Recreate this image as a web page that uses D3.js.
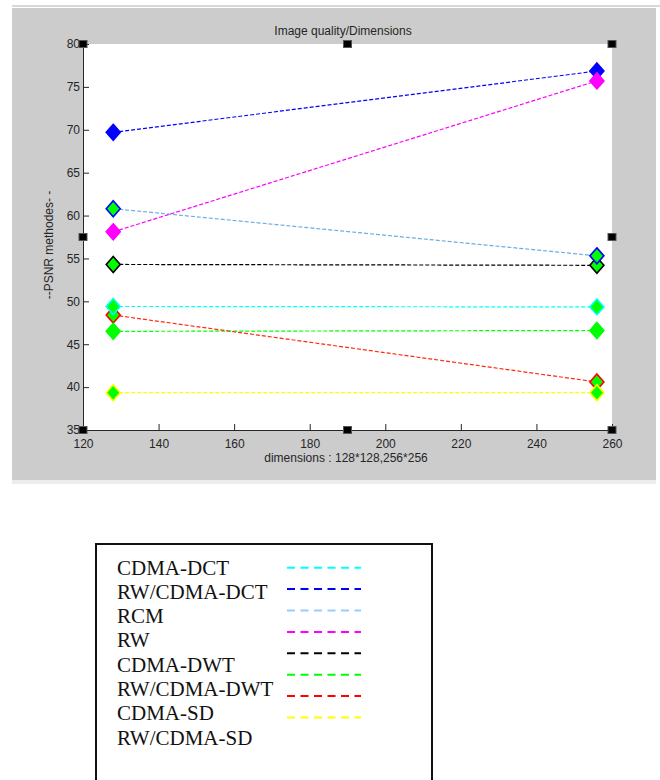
<!DOCTYPE html>
<html>
<head>
<meta charset="utf-8">
<script src="https://cdn.jsdelivr.net/npm/d3@7/dist/d3.min.js"></script>
<style>
  body { margin: 0; background: #fff; }
  svg { display: block; }
</style>
</head>
<body>
<svg id="chart" width="660" height="780"></svg>
<script>
// data
const dims = [128, 256];
const seriesNames = ["CDMA-DCT", "RW/CDMA-DCT", "RCM", "RW", "CDMA-DWT", "RW/CDMA-DWT", "CDMA-SD", "RW/CDMA-SD"];
const cdmaDct = [49.4, 49.35];
const rwCdmaDct = [69.7, 76.85];
const rcm = [60.8, 55.3];
const rw = [58.1, 75.7];
const cdmaDwt = [54.3, 54.2];
const rwCdmaDwt = [46.5, 46.6];
const cdmaSd = [48.4, 40.6];
const rwCdmaSd = [39.35, 39.35];
const lineColors = ["#00ffff", "#0000ff", "#6aaee0", "#ff00ff", "#000000", "#00ff00", "#ff2a10", "#ffff00"];
const edgeColors = ["#00ffff", "#0000ff", "#0000ff", "#ff00ff", "#000000", "#00ff00", "#ff0000", "#ffff00"];
const faceColors = ["#00ff00", "#0000ff", "#00ff00", "#ff00ff", "#00ff00", "#00ff00", "#00ff00", "#00ff00"];
const legendSwatchColors = ["#00ffff", "#0000ff", "#99ccff", "#ff00ff", "#000000", "#00ff00", "#ff0000", "#ffff00"];
const xTicks = [120, 140, 160, 180, 200, 220, 240, 260];
const yTicks = [35, 40, 45, 50, 55, 60, 65, 70, 75, 80];
// which markers end up on top in the original
const markerOrder = [1, 3, 4, 2, 6, 0, 7, 5];

const allValues = [cdmaDct, rwCdmaDct, rcm, rw, cdmaDwt, rwCdmaDwt, cdmaSd, rwCdmaSd];
const series = seriesNames.map((name, i) => ({
    name: name,
    values: allValues[i].map((v, j) => ({ x: dims[j], y: v })),
    line: lineColors[i], edge: edgeColors[i], face: faceColors[i]
}));

const svg = d3.select("#chart");
const plot = { left: 83, top: 44, right: 612, bottom: 430 };
const sans = "'Liberation Sans', Arial, sans-serif";
const ink = "#262626";

// figure background (matlab grey)
svg.append("line").attr("x1", 12).attr("x2", 660).attr("y1", 6).attr("y2", 6)
   .attr("stroke", "#d8d8d8").attr("stroke-width", 2);
svg.append("rect").attr("x", 12).attr("y", 8).attr("width", 644).attr("height", 472)
   .attr("fill", "#cccccc");
svg.append("rect").attr("x", 12).attr("y", 480).attr("width", 644).attr("height", 4)
   .attr("fill", "#ececec");
svg.append("rect").attr("x", plot.left).attr("y", plot.top)
   .attr("width", plot.right - plot.left).attr("height", plot.bottom - plot.top)
   .attr("fill", "#fff");

const x = d3.scaleLinear().domain([120, 260]).range([plot.left, plot.right]);
const y = d3.scaleLinear().domain([35, 80]).range([plot.bottom, plot.top]);

// axes, ticks pointing inward
const xAxis = svg.append("g").attr("transform", `translate(0,${plot.bottom})`)
    .call(d3.axisBottom(x).tickValues(xTicks).tickSizeInner(-6).tickSizeOuter(0).tickPadding(9));
const yAxis = svg.append("g").attr("transform", `translate(${plot.left},0)`)
    .call(d3.axisLeft(y).tickValues(yTicks).tickSizeInner(-6).tickSizeOuter(0).tickPadding(3));
[xAxis, yAxis].forEach(a => {
    a.select(".domain").attr("stroke", ink);
    a.selectAll(".tick line").attr("stroke", ink);
    a.selectAll("text").attr("fill", ink).style("font-family", sans).style("font-size", "12px");
});

// series lines
const lineGen = d3.line().x(d => x(d.x)).y(d => y(d.y));
svg.append("g").selectAll("path")
   .data(series).enter()
   .append("path")
   .attr("d", d => lineGen(d.values))
   .attr("fill", "none")
   .attr("stroke", d => d.line)
   .attr("stroke-width", 1.2)
   .attr("stroke-dasharray", "4,2");

// diamond markers
const diamond = (cx, cy) => `M${cx},${cy - 8}L${cx + 7},${cy}L${cx},${cy + 8}L${cx - 7},${cy}Z`;
const markers = svg.append("g");
markerOrder.forEach(k => {
    const s = series[k];
    markers.selectAll(null)
       .data(s.values).enter()
       .append("path")
       .attr("d", d => diamond(x(d.x), y(d.y)))
       .attr("fill", s.face)
       .attr("stroke", s.edge)
       .attr("stroke-width", 1.6);
});

// selection handles of the axes
const handlesX = [plot.left, (plot.left + plot.right) / 2, plot.right];
const handlesY = [plot.top, (plot.top + plot.bottom) / 2, plot.bottom];
handlesX.forEach((hx, i) => handlesY.forEach((hy, j) => {
    if (i === 1 && j === 1) return;
    svg.append("rect").attr("x", hx - 4).attr("y", hy - 3.5).attr("width", 8).attr("height", 7)
       .attr("fill", "#000").attr("stroke", "#555").attr("stroke-width", 1);
}));

// titles
svg.append("text").attr("x", 343).attr("y", 35).attr("text-anchor", "middle")
   .style("font-family", sans).style("font-size", "12px").attr("fill", ink)
   .text("Image quality/Dimensions");
svg.append("text").attr("x", 346).attr("y", 462).attr("text-anchor", "middle")
   .style("font-family", sans).style("font-size", "12px").attr("fill", ink)
   .text("dimensions : 128*128,256*256");
svg.append("text").attr("transform", "translate(53,245) rotate(-90)").attr("text-anchor", "middle")
   .style("font-family", sans).style("font-size", "12px").attr("fill", ink)
   .text("--PSNR  methodes- -");

// legend box (separate pasted panel)
const legend = svg.append("g");
legend.append("rect").attr("x", 96).attr("y", 544).attr("width", 336).attr("height", 250)
   .attr("fill", "#fff").attr("stroke", "#111").attr("stroke-width", 2);
legend.selectAll("text")
   .data(seriesNames).enter()
   .append("text")
   .attr("x", 117)
   .attr("y", (d, i) => 574.5 + i * 24.3)
   .style("font-family", "'Liberation Serif', 'Times New Roman', serif")
   .style("font-size", "21px")
   .attr("fill", "#111")
   .text(d => d);
legend.selectAll("line")
   .data(legendSwatchColors).enter()
   .append("line")
   .attr("x1", 287).attr("x2", 361)
   .attr("y1", (d, i) => 567.7 + i * 21.4)
   .attr("y2", (d, i) => 567.7 + i * 21.4)
   .attr("stroke", d => d)
   .attr("stroke-width", 2)
   .attr("stroke-dasharray", "8,5.5");
</script>
</body>
</html>
